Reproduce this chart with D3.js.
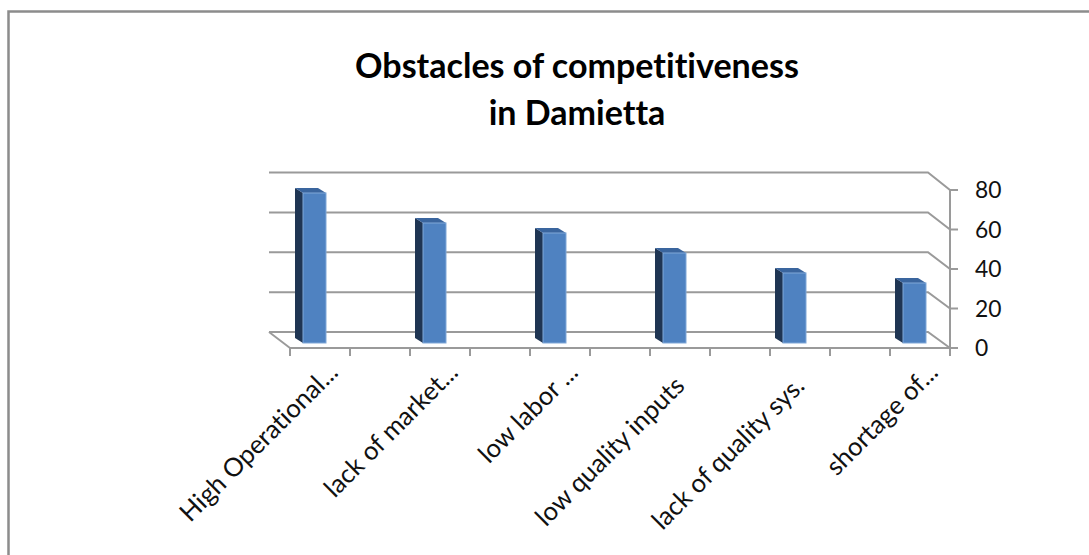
<!DOCTYPE html>
<html><head><meta charset="utf-8">
<script src="https://cdn.jsdelivr.net/npm/d3@7"></script>
<style>html,body{margin:0;padding:0;background:#fff;overflow:hidden} text{font-variant-ligatures:none;font-feature-settings:"liga" 0,"clig" 0}</style>
</head><body>
<svg id="c" width="1089" height="555"></svg>
<script>
const categories = ["High Operational...", "lack of market...", "low labor ...", "low quality inputs", "lack of quality sys.", "shortage of..."];
const values = [75, 60, 55, 45, 35, 30];
const yTicks = [0, 20, 40, 60, 80];
const titleLines = ["Obstacles of competitiveness", "in Damietta"];

const svg = d3.select("#c");
const FONT = "Lato, 'Open Sans', sans-serif";

// outer chart frame (extends past right/bottom edges)
svg.append("rect").attr("x", 8.5).attr("y", 11.5).attr("width", 1200).attr("height", 700)
  .attr("fill", "#fff").attr("stroke", "#8c8c8c").attr("stroke-width", 2.5);

// scales
const yBack = d3.scaleLinear().domain([0, 80]).range([332, 172.5]);
const yFront = d3.scaleLinear().domain([0, 80]).range([348, 190]);
const yBar = d3.scaleLinear().domain([0, 80]).range([343, 183]);
const xBar = d3.scalePoint().domain(categories).range([314.5, 914.5]);
const xFront = d3.scaleLinear().domain([0, 11]).range([290, 950]);
const backLeft = 269, backRight = 928;
const frontLeft = xFront(0), frontRight = xFront(11);

const grid = svg.append("g");
grid.append("path")
  .attr("d", `M${frontLeft},${yFront(0)} L${backLeft},${yBack(0)}`)
  .attr("fill", "none").attr("stroke", "#9a9a9a").attr("stroke-width", 2);
grid.selectAll("path.g").data(yTicks).join("path").attr("class", "g")
  .attr("d", v => `M${backLeft},${yBack(v)} H${backRight} L${frontRight},${yFront(v)}`)
  .attr("fill", "none").attr("stroke", "#9a9a9a").attr("stroke-width", 2);

// front (category) axis
const fa = svg.append("g");
fa.append("line").attr("x1", frontLeft).attr("x2", frontRight).attr("y1", yFront(0)).attr("y2", yFront(0))
  .attr("stroke", "#9a9a9a").attr("stroke-width", 2);
fa.selectAll("line.t").data(d3.range(0, 12)).join("line").attr("class", "t")
  .attr("x1", d => xFront(d)).attr("x2", d => xFront(d))
  .attr("y1", yFront(0)).attr("y2", yFront(0) + 8)
  .attr("stroke", "#9a9a9a").attr("stroke-width", 2);

// value axis on right
const va = svg.append("g");
va.append("line").attr("x1", frontRight).attr("x2", frontRight)
  .attr("y1", yFront(80)).attr("y2", yFront(0) + 8)
  .attr("stroke", "#9a9a9a").attr("stroke-width", 2);
va.selectAll("line.t").data(yTicks).join("line").attr("class", "t")
  .attr("x1", frontRight).attr("x2", frontRight + 8)
  .attr("y1", d => yFront(d)).attr("y2", d => yFront(d))
  .attr("stroke", "#9a9a9a").attr("stroke-width", 2);
const tl = va.selectAll("text").data(yTicks).join("text")
  .attr("x", 975).attr("y", d => yFront(d)).attr("dy", "0.36em")
  .attr("font-family", FONT).attr("fill", "#111")
  .text(d => d);

function fit(text, target, bold) {
  const t = svg.append("text").attr("font-family", FONT).attr("font-size", 100)
    .attr("font-weight", bold ? "bold" : "normal").text(text);
  const w = t.node().getComputedTextLength();
  t.remove();
  return 100 * target / w;
}
tl.attr("font-size", fit("80", 26.5, false));

// bars
const depthX = -8, depthY = -5, bw = 23;
const bars = svg.append("g").selectAll("g").data(categories.map((c, i) => ({c, v: values[i]}))).join("g");
bars.append("path")
  .attr("d", d => {
    const x = xBar(d.c) - bw / 2, t = yBar(d.v), b = yBar(0);
    return `M${x},${b} L${x},${t} L${x + depthX},${t + depthY} L${x + depthX},${b + depthY} Z`;
  }).attr("fill", "#1f3553");
bars.append("path")
  .attr("d", d => {
    const x = xBar(d.c) - bw / 2, t = yBar(d.v);
    return `M${x},${t} L${x + bw},${t} L${x + bw + depthX},${t + depthY} L${x + depthX},${t + depthY} Z`;
  }).attr("fill", "#3a659e");
bars.append("rect")
  .attr("x", d => xBar(d.c) - bw / 2).attr("y", d => yBar(d.v))
  .attr("width", bw).attr("height", d => yBar(0) - yBar(d.v))
  .attr("fill", "#4f82c1").attr("stroke", "#80a8d8").attr("stroke-width", 1);

// category labels
const catSize = fit(categories[0], 211, false);
svg.append("g").selectAll("text").data(categories).join("text")
  .attr("transform", d => `translate(${xBar(d) + 25},374) rotate(-45)`)
  .attr("x", d => d.endsWith("...") ? 0 : -19)
  .attr("text-anchor", "end")
  .attr("font-family", FONT).attr("font-size", catSize).attr("fill", "#111")
  .text(d => d);

// title
const tSize = fit(titleLines[0], 444, true);
svg.append("g").selectAll("text").data(titleLines).join("text")
  .attr("x", 577).attr("y", (d, i) => 78 + i * 47)
  .attr("text-anchor", "middle")
  .attr("font-family", FONT).attr("font-weight", "bold").attr("font-size", tSize).attr("fill", "#000")
  .text(d => d);
</script>
</body></html>
